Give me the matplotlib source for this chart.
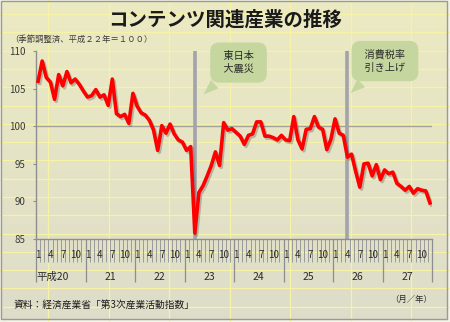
import numpy as np
import matplotlib
matplotlib.use("Agg")
import matplotlib.pyplot as plt
import matplotlib.patheffects as pe
from matplotlib.patches import Rectangle
from matplotlib.ticker import FixedLocator

plt.rcParams["font.family"] = ["Noto Sans CJK JP", "DejaVu Sans"]

# =========================
# DATA
# =========================

years = ["平成20", "21", "22", "23", "24", "25", "26", "27"]
month_labels = {0: "1", 3: "4", 6: "7", 9: "10"}

# monthly index, Jan H20 .. Dec H27 (96 months)
values = [
    106.0, 108.7, 106.5, 105.9, 103.6, 106.9, 105.4, 107.3, 105.8, 106.3, 105.6, 104.7,
    103.9, 104.1, 104.9, 103.9, 104.2, 102.8, 106.3, 101.7, 101.3, 101.6, 100.4, 104.4,
    102.7, 101.8, 101.5, 100.8, 99.5, 96.8, 100.1, 99.1, 100.3, 99.0, 98.2, 97.9,
    96.8, 97.3, 85.8, 91.2, 92.1, 93.4, 94.8, 96.6, 94.8, 100.5, 99.5, 99.7,
    99.2, 98.7, 97.6, 98.8, 99.0, 100.6, 100.6, 98.7, 98.7, 98.5, 98.2, 98.8,
    98.2, 98.1, 101.3, 98.2, 97.0, 99.6, 99.7, 101.3, 99.9, 99.6, 96.9, 98.3,
    101.0, 99.1, 98.8, 95.9, 96.3, 94.0, 91.9, 95.0, 95.1, 93.4, 94.9, 92.9,
    94.2, 93.7, 93.9, 92.4, 92.0, 91.5, 92.0, 91.1, 91.7, 91.5, 91.4, 89.8,
]

# events: (month index, label, tail tip, box centre)
events = [
    (38, "  東日本  \n  大震災  ", (39.6, 104.0), (48.6, 108.5)),
    (75, "  消費税率  \n  引き上げ  ", (75.3, 104.2), (84.1, 108.7)),
]

W, H = 450, 322

# =========================
# FIGURE / BACKGROUND
# =========================

fig = plt.figure(figsize=(W / 100, H / 100), dpi=100)
fig.patch.set_facecolor("#f3f2e6")

bg = fig.add_axes([0, 0, 1, 1])
bg.set_xlim(0, W)
bg.set_ylim(H, 0)
bg.axis("off")

grad = np.linspace(0, 1, 256)[:, None]
top_c = np.array([0.925, 0.918, 0.760])
bot_c = np.array([0.870, 0.866, 0.790])
img = top_c + (bot_c - top_c) * grad[..., None]
bg.imshow(img, extent=(1, 447, 319, 1), aspect="auto", zorder=0)

# spreadsheet cell lines showing through
for gx in np.arange(48, W, 60.5):
    bg.axvline(gx, color="#f6f2a6", lw=0.9, zorder=1)
for gy in np.arange(14, H, 18.3):
    bg.axhline(gy, color="#f6f2a6", lw=0.9, zorder=1)

bg.add_patch(Rectangle((1, 1), 446, 318, fill=False, ec="#9a9a9a", lw=1.0, zorder=2))

# =========================
# MAIN AXES
# =========================

x0, x1 = 36, 432
y_top, y_bot = 51.3, 239
ax = fig.add_axes([x0 / W, 1 - y_bot / H, (x1 - x0) / W, (y_bot - y_top) / H])
ax.set_facecolor("none")

n = len(values)
x = np.arange(n)

ax.set_xlim(-0.5, n - 0.5)
ax.set_ylim(85, 110)

ax.axhline(100, color="#a3a3a3", lw=1.0, zorder=1)
for idx, _, _, _ in events:
    ax.axvline(idx, color="#a2a3ab", lw=2.6, zorder=2)

ax.plot(
    x, values, color="#ff0000", lw=2.6, solid_joinstyle="round", zorder=3,
    path_effects=[pe.SimpleLineShadow(offset=(1.2, -1.4), shadow_color="#5a5a5a", alpha=0.35),
                  pe.Normal()],
)

for s in ["top", "right"]:
    ax.spines[s].set_visible(False)
for s in ["left", "bottom"]:
    ax.spines[s].set_color("#8e8e8e")
    ax.spines[s].set_linewidth(1.0)

ax.set_yticks([85, 90, 95, 100, 105, 110])
ax.tick_params(axis="y", direction="out", length=2.5, width=0.8, color="#8e8e8e",
               labelsize=7, labelcolor="#3a3a3a", pad=5)

# category axis: month boundaries and year boundaries
year_bounds = np.arange(-0.5, n, 12)
month_bounds = [b for b in np.arange(-0.5, n, 1) if (b + 0.5) % 12 != 0]
ax.xaxis.set_major_locator(FixedLocator(year_bounds))
ax.xaxis.set_minor_locator(FixedLocator(month_bounds))
ax.tick_params(axis="x", which="major", direction="out", length=31, width=0.9,
               color="#8e8e8e", labelbottom=False)
ax.tick_params(axis="x", which="minor", direction="out", length=16.5, width=0.7,
               color="#9a9a9a")

xtr = ax.get_xaxis_transform()
for i in range(n):
    lbl = month_labels.get(i % 12)
    if lbl:
        ax.annotate(lbl, xy=(i, 0), xycoords=xtr, xytext=(0, -11.5),
                    textcoords="offset points", ha="center", va="center",
                    fontsize=7, color="#2a2a2a")
for k, yl in enumerate(years):
    if k == 0:
        ax.annotate(yl, xy=(-0.3, 0), xycoords=xtr, xytext=(0, -27.5),
                    textcoords="offset points", ha="left", va="center",
                    fontsize=7.5, color="#2a2a2a")
    else:
        ax.annotate(yl, xy=(12 * k + 5.5, 0), xycoords=xtr, xytext=(0, -27.5),
                    textcoords="offset points", ha="center", va="center",
                    fontsize=7.5, color="#2a2a2a")

# callout bubbles
for idx, text, tip, box in events:
    ax.annotate(
        text, xy=tip, xytext=box, ha="center", va="center",
        fontsize=7.3, color="#2a2a2a", linespacing=1.35, zorder=5,
        bbox=dict(boxstyle="round,pad=0.85,rounding_size=0.9", fc="#c5d79e", ec="none"),
        arrowprops=dict(arrowstyle="wedge,tail_width=1.1,shrink_factor=0.5",
                        fc="#c5d79e", ec="none"),
        annotation_clip=False,
    )

# =========================
# TEXTS
# =========================

fig.text(225 / W, 1 - 20 / H, "コンテンツ関連産業の推移", ha="center", va="center",
         fontsize=14, fontweight="bold", color="#1a1a1a")
fig.text(10 / W, 1 - 39 / H, "（季節調整済、平成２２年＝１００）", ha="left", va="center",
         fontsize=6, color="#3a3a3a")
fig.text(14 / W, 1 - 305 / H, "資料：経済産業省「第3次産業活動指数」", ha="left", va="center",
         fontsize=7, color="#1a1a1a")
fig.text(432 / W, 1 - 299 / H, "（月／年）", ha="right", va="center",
         fontsize=6, color="#2a2a2a")

fig.savefig("out.png", dpi=100)
